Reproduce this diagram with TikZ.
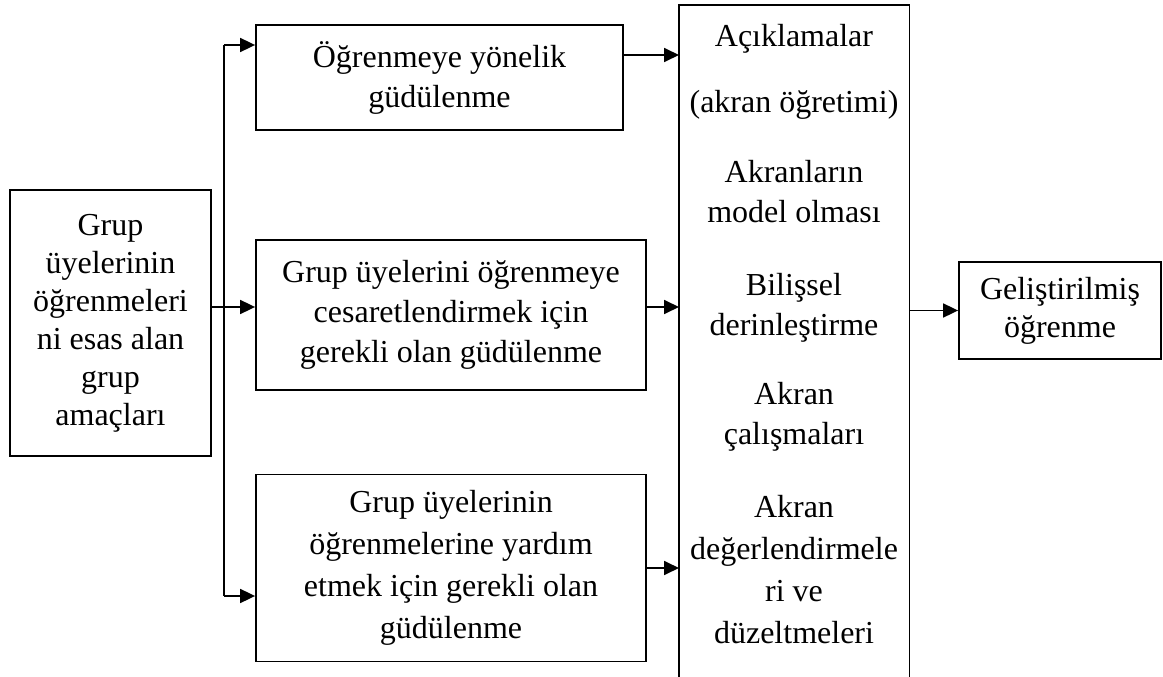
\documentclass[tikz,border=0pt]{standalone}
\usepackage{fontspec}
\setmainfont{Liberation Serif}
\usetikzlibrary{arrows.meta}
\begin{document}
\begin{tikzpicture}[x=1pt,y=-1pt,
  box/.style={draw, line width=1.8pt, inner sep=0pt, align=center},
  ln/.style={line width=1.8pt},
  arr/.style={line width=1.8pt, -{Triangle[length=15pt,width=14pt]}},
  body/.style={font=\fontsize{32}{#1}\selectfont},
  body/.default=40,
  txt/.style={inner sep=0pt, anchor=base, align=center}
]
\useasboundingbox (0,0) rectangle (1163,677);

% boxes
\node[box, body=38, minimum width=201pt, minimum height=266pt] (left) at (110.5,323)
  {Grup\\üyelerinin\\öğrenmeleri\\ni esas alan\\grup\\amaçları};
\node[box, body=40, minimum width=367pt, minimum height=105pt] (top) at (439.5,77.5)
  {Öğrenmeye yönelik\\güdülenme};
\node[box, body=40, minimum width=390pt, minimum height=150pt] (mid) at (451,315)
  {Grup üyelerini öğrenmeye\\cesaretlendirmek için\\gerekli olan güdülenme};
\node[box, body=42, minimum width=390pt, minimum height=187pt] (bot) at (451,568)
  {Grup üyelerinin\\öğrenmelerine yardım\\etmek için gerekli olan\\güdülenme};
\node[box, body=38, minimum width=202pt, minimum height=97pt] (out) at (1060,310.5)
  {Geliştirilmiş\\öğrenme};

% tall box, open at the bottom
\node[inner sep=0pt, minimum width=230pt, minimum height=672pt, anchor=north west] (big) at (679,5) {};
\draw[ln] (big.south west) -- (big.north west) -- (big.north east) -- (big.south east);

% contents of the tall box (base = baseline of the last line)
\node[txt, body=40] (t1) at (794,47) {Açıklamalar};
\node[txt, body=40] (t2) at (794,113) {(akran öğretimi)};
\node[txt, body=40] (t3) at (794,222) {Akranların\\model olması};
\node[txt, body=40] (t4) at (794,335) {Bilişsel\\derinleştirme};
\node[txt, body=40] (t5) at (794,444) {Akran\\çalışmaları};
\node[txt, body=42] (t6) at (794,643) {Akran\\değerlendirmele\\ri ve\\düzeltmeleri};

% distribution trunk
\coordinate (ttop) at (224,45);
\coordinate (tbot) at (224,596);
\coordinate (ymid) at (0,307);
\coordinate (ya) at (0,55);
\coordinate (yc) at (0,568);

\draw[ln] (ttop) -- (tbot);
\draw[arr] (ttop) -- (top.west |- ttop);
\draw[arr] (left.east |- ymid) -- (mid.west |- ymid);
\draw[arr] (tbot) -- (bot.west |- tbot);

% into the tall box
\draw[arr] (top.east |- ya) -- (big.west |- ya);
\draw[arr] (mid.east |- ymid) -- (big.west |- ymid);
\draw[arr] (bot.east |- yc) -- (big.west |- yc);

% result
\draw[arr] (big.east |- out.west) -- (out.west);
\end{tikzpicture}
\end{document}
